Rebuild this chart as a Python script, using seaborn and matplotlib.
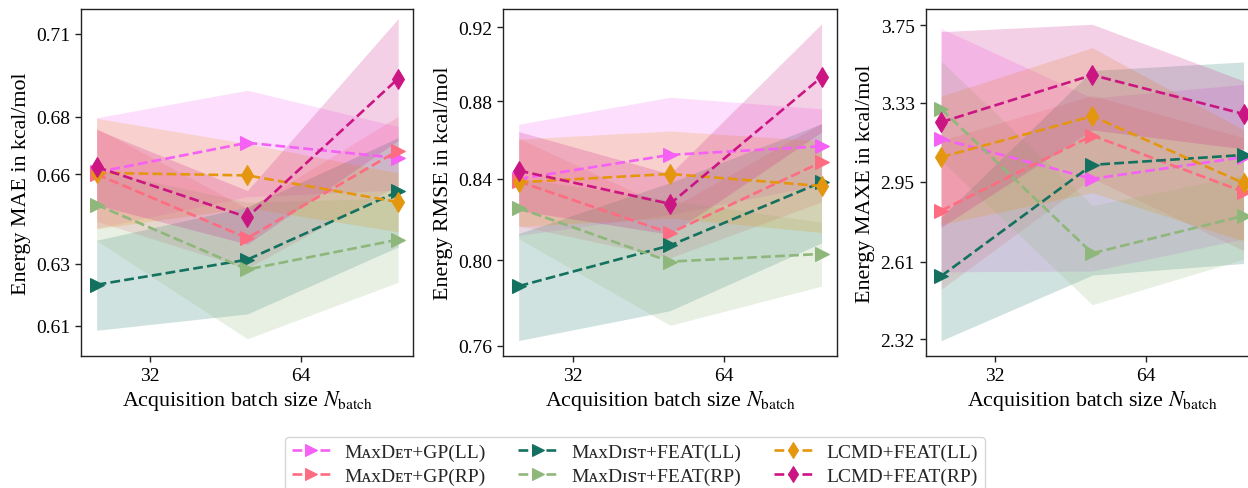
import numpy as np
import pandas as pd
import matplotlib
matplotlib.use("Agg")
import matplotlib.pyplot as plt
import seaborn as sns
from matplotlib.ticker import FixedLocator, FixedFormatter, NullLocator

sns.set_theme(style="ticks")
plt.rcParams['font.family'] = ['Liberation Serif', 'DejaVu Serif', 'DejaVu Sans']
plt.rcParams['mathtext.fontset'] = 'stix'
plt.rcParams['axes.linewidth'] = 1.0
plt.rcParams['axes.edgecolor'] = '#222222'

methods = ['MᴀxDᴇᴛ+GP(LL)', 'MᴀxDᴇᴛ+GP(RP)', 'MᴀxDɪꜱᴛ+FEAT(LL)',
           'MᴀxDɪꜱᴛ+FEAT(RP)', 'LCMD+FEAT(LL)', 'LCMD+FEAT(RP)']
colors = ['#f560f5', '#fd6c80', '#14705f', '#8fb77b', '#e4960f', '#cb1583']
marker_shapes = ['>', '>', '>', '>', 'd', 'd']
batch_sizes = [25, 50, 100]

# Energy MAE (kcal/mol): means and standard deviations per method
mae_mean = [[0.6607, 0.6709, 0.6656],
            [0.6600, 0.6384, 0.6682],
            [0.6231, 0.6313, 0.6541],
            [0.6496, 0.6281, 0.6379],
            [0.6605, 0.6596, 0.6505],
            [0.6625, 0.6454, 0.6937]]
mae_std = [[0.0190, 0.0186, 0.0110],
           [0.0160, 0.0100, 0.0120],
           [0.0146, 0.0176, 0.0186],
           [0.0120, 0.0223, 0.0140],
           [0.0190, 0.0110, 0.0100],
           [0.0130, 0.0090, 0.0220]]

# Energy RMSE (kcal/mol)
rmse_mean = [[0.8400, 0.8522, 0.8566],
             [0.8387, 0.8131, 0.8485],
             [0.7876, 0.8071, 0.8383],
             [0.8254, 0.7993, 0.8030],
             [0.8383, 0.8425, 0.8364],
             [0.8442, 0.8275, 0.8929]]
rmse_std = [[0.0280, 0.0300, 0.0195],
            [0.0220, 0.0120, 0.0200],
            [0.0253, 0.0310, 0.0300],
            [0.0150, 0.0300, 0.0154],
            [0.0220, 0.0220, 0.0230],
            [0.0200, 0.0150, 0.0290]]

# Energy MAXE (kcal/mol)
maxe_mean = [[3.151, 2.964, 3.064],
             [2.823, 3.167, 2.906],
             [2.554, 3.028, 3.074],
             [3.299, 2.645, 2.801],
             [3.064, 3.262, 2.945],
             [3.232, 3.474, 3.273]]
maxe_std = [[0.580, 0.390, 0.360],
            [0.320, 0.200, 0.250],
            [0.240, 0.470, 0.470],
            [0.250, 0.200, 0.180],
            [0.300, 0.360, 0.250],
            [0.480, 0.280, 0.170]]

y_labels = ['Energy MAE in kcal/mol', 'Energy RMSE in kcal/mol', 'Energy MAXE in kcal/mol']
y_ticks = [[0.61, 0.63, 0.66, 0.68, 0.71],
           [0.76, 0.80, 0.84, 0.88, 0.92],
           [2.32, 2.61, 2.95, 3.33, 3.75]]
x_ticks = [32, 64]
x_label = r'Acquisition batch size $N_\mathrm{batch}$'

W, H = 1248, 489
fig = plt.figure(figsize=(W / 100, H / 100), dpi=100)
ax_px = [(81.3, 10, 332.0, 346.7), (503.3, 10, 333.4, 346.7), (925.7, 10, 333.0, 346.7)]
axes = [fig.add_axes([l / W, 1 - (t + h) / H, w / W, h / H]) for (l, t, w, h) in ax_px]

panels = [(mae_mean, mae_std), (rmse_mean, rmse_std), (maxe_mean, maxe_std)]
palette = dict(zip(methods, colors))
markers = dict(zip(methods, marker_shapes))
dashes = {m: (3.7, 1.6) for m in methods}

for k, (ax, (means, stds)) in enumerate(zip(axes, panels)):
    rows = []
    for i, m in enumerate(methods):
        for j, b in enumerate(batch_sizes):
            rows.append({'method': m, 'batch': b, 'value': means[i][j], 'std': stds[i][j]})
    df = pd.DataFrame(rows)
    for i, m in enumerate(methods):
        d = df[df.method == m]
        ax.fill_between(d.batch, d.value - d['std'], d.value + d['std'],
                        color=colors[i], alpha=0.2, lw=0, zorder=1)
    sns.lineplot(data=df, x='batch', y='value', hue='method', style='method',
                 hue_order=methods, style_order=methods, palette=palette,
                 markers=markers, dashes=dashes, markersize=10, linewidth=1.9,
                 errorbar=None, ax=ax, legend=(k == 0), zorder=3)
    for ln in ax.lines:
        ln.set_markeredgecolor(ln.get_color())
    ax.set_xscale('log')
    ax.set_yscale('log')
    ax.xaxis.set_major_locator(FixedLocator(x_ticks))
    ax.xaxis.set_major_formatter(FixedFormatter([str(t) for t in x_ticks]))
    ax.xaxis.set_minor_locator(NullLocator())
    ax.yaxis.set_major_locator(FixedLocator(y_ticks[k]))
    ax.yaxis.set_major_formatter(FixedFormatter(['%.2f' % t for t in y_ticks[k]]))
    ax.yaxis.set_minor_locator(NullLocator())
    ax.set_xlim(23.3, 107.2)
    ax.tick_params(labelsize=14, colors='#222222', labelcolor='black', length=4.5, width=1)
    ax.set_xlabel(x_label, fontsize=15.8, color='black', labelpad=3)
    ax.set_ylabel(y_labels[k], fontsize=15.8, color='black', labelpad=4)
    for s in ax.spines.values():
        s.set_visible(True)

axes[0].set_ylim(0.6005, 0.7193)
axes[1].set_ylim(0.7554, 0.9302)
axes[2].set_ylim(2.2615, 3.843)

handles, labels = axes[0].get_legend_handles_labels()
axes[0].get_legend().remove()
for h in handles:
    h.set_markeredgecolor(h.get_color())
fig.legend(handles, labels, loc='upper center', bbox_to_anchor=(634.7 / W, 1 - 437.7 / H),
           ncol=3, fontsize=14, frameon=True, handlelength=2.0, handletextpad=0.7,
           columnspacing=1.7, labelspacing=0.3, borderpad=0.35, borderaxespad=0,
           markerscale=0.8)

fig.savefig('out.png', dpi=100)
